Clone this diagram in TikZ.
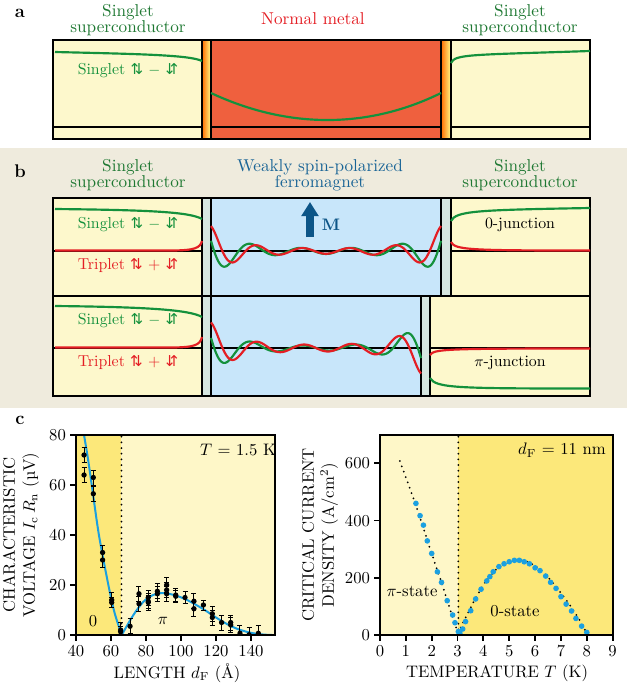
\documentclass[tikz,border=0pt]{standalone}
\usepackage{fontspec}
\newfontfamily\arrowfont{DejaVu Sans}
\usetikzlibrary{arrows.meta}
\definecolor{scyellow}{RGB}{253,248,204}
\definecolor{nmred}{RGB}{239,96,62}
\definecolor{fmblue}{RGB}{200,230,250}
\definecolor{gapblue}{RGB}{214,230,224}
\definecolor{panelbg}{RGB}{239,235,221}
\definecolor{sgreen}{RGB}{20,145,60}
\definecolor{titlegreen}{RGB}{30,120,50}
\definecolor{tred}{RGB}{228,30,36}
\definecolor{fmtitle}{RGB}{25,100,150}
\definecolor{marrow}{RGB}{12,85,135}
\definecolor{plotdark}{RGB}{252,232,122}
\definecolor{plotlight}{RGB}{254,247,200}
\definecolor{fitcyan}{RGB}{27,160,224}
\newcommand{\updn}{{\arrowfont\small ⇅}}
\newcommand{\dnup}{{\arrowfont\small ⇵}}
\begin{document}
\begin{tikzpicture}[x=0.6pt, y=-0.6pt,
    box/.style={draw, line width=1pt},
    title/.style={align=center, font=\fontsize{10.3}{9.4}\selectfont},
    lab/.style={font=\fontsize{9.5}{11}\selectfont},
    wave/.style={line width=1.3pt, line join=round},
    tick/.style={font=\fontsize{10}{12}\selectfont},
    axis/.style={line width=1.1pt},
    panel/.style={font=\bfseries\fontsize{11}{12}\selectfont},
    dots/.style={line width=1.2pt, dash pattern=on 0pt off 3.4pt, line cap=round},
    declare function={gw(\s)=(1.5+24*exp(-\s/25))*sin(7.5*\s-20);
                      rw(\s)=-(1.5+23*exp(-\s/25))*cos(7.5*\s);}]
\useasboundingbox (0,0) rectangle (627,691);

% panel a
\node[panel] (la) at (20,13) {a};
\node[title, text=titlegreen] (scLa) at (128,20) {Singlet\\superconductor};
\node[title, text=tred] (nma) at (313,19) {Normal metal};
\node[title, text=titlegreen] (scRa) at (520,20) {Singlet\\superconductor};
\fill[scyellow] (53,40) rectangle (202,139);
\fill[scyellow] (451,40) rectangle (590,139);
\fill[nmred] (211,40) rectangle (441,139);
\shade[left color=orange!85!red, right color=yellow!45] (202,40) rectangle (211,139);
\shade[left color=orange!85!red, right color=yellow!45] (441,40) rectangle (451,139);
\draw[line width=1pt] (53,127) -- (202,127) (211,127) -- (441,127) (451,127) -- (590,127);
\draw[box] (53,40) rectangle (590,139);
\foreach \xv in {202,211,441,451} \draw[line width=1pt] (\xv,40) -- (\xv,139);
\draw[wave, sgreen] (55,52) .. controls (140,54) and (190,55) .. (202,61);
\draw[wave, sgreen] (211,93) .. controls (290,130) and (370,128) .. (441,93);
\draw[wave, sgreen] (451,63) .. controls (455,54) and (470,55) .. (590,51);
\node[lab, text=sgreen] (sga) at (128,71) {Singlet \updn\ $-$ \dnup};

% panel b
\fill[panelbg] (0,148) rectangle (627,408);
\node[panel] (lb) at (20,171) {b};
\node[title, text=titlegreen] (scLb) at (128,175) {Singlet\\superconductor};
\node[title, text=fmtitle] (fmb) at (320,175) {Weakly spin-polarized\\ferromagnet};
\node[title, text=titlegreen] (scRb) at (520,175) {Singlet\\superconductor};
% top row: 0-junction
\fill[scyellow] (53,198) rectangle (202,296);
\fill[gapblue] (202,198) rectangle (211,296);
\fill[fmblue] (211,198) rectangle (441,296);
\fill[gapblue] (441,198) rectangle (451,296);
\fill[scyellow] (451,198) rectangle (590,296);
% bottom row: pi-junction
\fill[scyellow] (53,296) rectangle (202,396);
\fill[gapblue] (202,296) rectangle (211,396);
\fill[fmblue] (211,296) rectangle (421,396);
\fill[gapblue] (421,296) rectangle (430,396);
\fill[scyellow] (430,296) rectangle (590,396);
\draw[line width=1pt] (53,251) -- (202,251) (211,251) -- (441,251) (451,251) -- (590,251);
\draw[line width=1pt] (53,348) -- (202,348) (211,348) -- (421,348) (430,348) -- (590,348);
\draw[box] (53,198) rectangle (590,296);
\draw[box] (53,296) rectangle (590,396);
\foreach \xv in {202,211,441,451} \draw[line width=1pt] (\xv,198) -- (\xv,296);
\foreach \xv in {202,211,421,430} \draw[line width=1pt] (\xv,296) -- (\xv,396);
% amplitudes, top row
\draw[wave, sgreen] (55,209) .. controls (150,210) and (190,212) .. (202,219);
\draw[wave, tred] (55,250.5) -- (170,250.5) .. controls (195,250.5) and (200,248) .. (202,241);
\draw[wave, sgreen] plot[domain=211:441, samples=160, smooth] (\x,{251+gw(\x-211)+gw(441-\x)});
\draw[wave, tred] plot[domain=211:441, samples=160, smooth] (\x,{251+rw(\x-211)+rw(441-\x)});
\draw[wave, sgreen] (451,221) .. controls (456,211) and (475,210) .. (590,208);
\draw[wave, tred] (451,242) .. controls (455,250) and (470,250.5) .. (590,250.5);
% amplitudes, bottom row
\draw[wave, sgreen] (55,306) .. controls (150,307) and (190,310) .. (202,317);
\draw[wave, tred] (55,347.5) -- (170,347.5) .. controls (195,347.5) and (200,345) .. (202,337);
\draw[wave, sgreen] plot[domain=211:421, samples=150, smooth] (\x,{348+gw(\x-211)-gw(421-\x)});
\draw[wave, tred] plot[domain=211:421, samples=150, smooth] (\x,{348+rw(\x-211)-rw(421-\x)});
\draw[wave, tred] (430,355) .. controls (434,349) and (445,348.5) .. (590,348.5);
\draw[wave, sgreen] (430,378) .. controls (436,388) and (455,388.5) .. (590,388.5);
% labels
\node[lab, text=sgreen] (sgt) at (128,225) {Singlet \updn\ $-$ \dnup};
\node[lab, text=tred] (trt) at (128,266) {Triplet \updn\ + \dnup};
\node[lab, text=sgreen] (sgb) at (128,321) {Singlet \updn\ $-$ \dnup};
\node[lab, text=tred] (trb) at (128,363) {Triplet \updn\ + \dnup};
\node[lab] (zeroj) at (520,225) {0-junction};
\node[lab] (pij) at (510,363) {$\pi$-junction};
\coordinate (mtail) at (310,237);
\coordinate (mhead) at (310,202);
\draw[marrow, line width=4.8pt, -{Triangle[length=8.5pt, width=10pt]}] (mtail) -- (mhead);
\node[font=\bfseries\fontsize{10}{12}\selectfont, text=marrow] (mlab) at (331,225) {M};

% panel c
\node[panel] (lc) at (20,420) {c};
% left plot
\begin{scope}[shift={(6,635)}, x=1.05pt, y=1.5pt]
  \begin{scope}
    \clip (40,0) rectangle (153.7,80);
    \fill[plotlight] (40,0) rectangle (153.7,80);
    \fill[plotdark] (40,0) rectangle (66,80);
    \draw[dots] (66,0) -- (66,80);
    \draw[fitcyan, line width=1.2pt] plot[smooth] coordinates {(43.6,84) (46.5,72) (49,60) (53.1,40) (58.5,20) (62,9) (66.1,0)};
    \draw[fitcyan, line width=1.2pt] plot[smooth] coordinates {(66.1,0) (72.8,8) (78.5,13.3) (84,16) (89.9,16.8) (96,16) (102,14.5) (108,12.3) (114,9.8) (120,7) (126,4.5) (132,2.5) (138,1.2) (144,0.4) (150,0.05) (153,0)};
    \foreach \xv/\yv/\ev in {44.6/72/3, 44.6/64/3, 49.9/63/3, 49.9/56.5/3, 55.2/33/3, 55.2/30/3,
        60.4/14/3, 60.4/13/2, 65.5/2/3, 65.5/1.3/2, 70.9/3.5/3, 76/16.5/3, 76/12.5/3,
        81.3/15/3, 81.3/13.5/3, 81.3/13/3, 86.5/17.5/3, 86.5/16.5/3, 91.8/20/3, 91.8/18/3,
        91.8/16.5/3, 97/16/2.5, 97/15.5/2.5, 102.3/15/2.5, 107.4/13.5/3, 107.4/10.5/3,
        112.8/12/2, 117.9/8.5/3, 117.9/7/3, 123.2/5/3, 128.4/5/3, 128.4/4/3,
        133.7/0.7/3, 138.9/0.1/3, 144.2/0.7/3} {
      \draw[line width=0.6pt] (\xv,\yv-\ev) -- (\xv,\yv+\ev)
        ([xshift=-1.5pt]\xv,\yv-\ev) -- ([xshift=1.5pt]\xv,\yv-\ev)
        ([xshift=-1.5pt]\xv,\yv+\ev) -- ([xshift=1.5pt]\xv,\yv+\ev);
      \fill (\xv,\yv) circle[radius=1.6pt];
    }
  \end{scope}
  \draw[axis] (40,0) rectangle (153.7,80);
  \foreach \v in {0,20,...,80} \draw[axis] (40,\v) -- ++(-3.5pt,0) node[left, tick, inner sep=2pt] {\v};
  \foreach \v in {40,60,...,140} \draw[axis] (\v,0) -- ++(0,-3.5pt) node[below, tick, inner sep=2pt] {\v};
\end{scope}
\node[tick] (tl) at (238,450) {$T$ = 1.5 K};
\node[tick] (zl) at (93,621) {0};
\node[tick] (pl) at (163,621) {$\pi$};
\node[tick, rotate=90, align=center] (ylabL) at (21,535) {CHARACTERISTIC\\VOLTAGE $I_{\mathrm c}\,R_{\mathrm n}$ (µV)};
\node[tick] (xlabL) at (177,673) {LENGTH $d_{\mathrm F}$ (Å)};
% right plot
\begin{scope}[shift={(380,635)}, x=15.51pt, y=0.17166pt]
  \fill[plotlight] (0,0) rectangle (3.03,700);
  \fill[plotdark] (3.03,0) rectangle (9,700);
  \draw[dots] (3.03,0) -- (3.03,700);
  \draw[dots] plot[smooth] coordinates {(0.77,608) (1.4,450) (2,285) (2.5,150) (2.85,50) (3.03,8)};
  \draw[dots] plot[smooth] coordinates {(3.03,8) (3.5,95) (4,175) (4.5,230) (5,257) (5.4,262) (5.8,252) (6.3,220) (6.8,170) (7.3,110) (7.7,55) (8,5)};
  \foreach \xv/\yv in {1.39/460, 1.55/417, 1.68/384, 1.83/329, 2.0/285, 2.22/221, 2.38/184,
      2.60/120, 2.81/70, 2.90/43, 3.03/12, 3.09/6, 3.2/21, 3.31/47, 3.51/85, 3.70/126,
      3.91/160, 4.13/189, 4.25/204, 4.38/221, 4.60/239, 4.80/249, 5.0/256, 5.2/261,
      5.39/261, 5.58/256, 5.78/249, 6.0/235, 6.19/225, 6.41/206, 6.60/184, 6.81/163,
      7.0/134, 7.2/108, 7.41/84, 7.58/58, 7.8/31, 8.0/9}
    \fill[fitcyan] (\xv,\yv) circle[radius=1.7pt];
  \draw[axis] (0,0) rectangle (9,700);
  \foreach \v in {0,200,400,600} \draw[axis] (0,\v) -- ++(-3.5pt,0) node[left, tick, inner sep=2pt] {\v};
  \foreach \v in {0,...,9} \draw[axis] (\v,0) -- ++(0,-3.5pt) node[below, tick, inner sep=2pt] {\v};
\end{scope}
\node[tick] (dl) at (562,450) {$d_{\mathrm F}$ = 11 nm};
\node[tick] (psl) at (412,591) {$\pi$-state};
\node[tick] (zsl) at (515,611) {0-state};
\node[tick, rotate=90, align=center] (ylabR) at (320,535) {CRITICAL CURRENT\\DENSITY (A/cm$^2$)};
\node[tick] (xlabR) at (497,673) {TEMPERATURE $T$ (K)};
\end{tikzpicture}
\end{document}
